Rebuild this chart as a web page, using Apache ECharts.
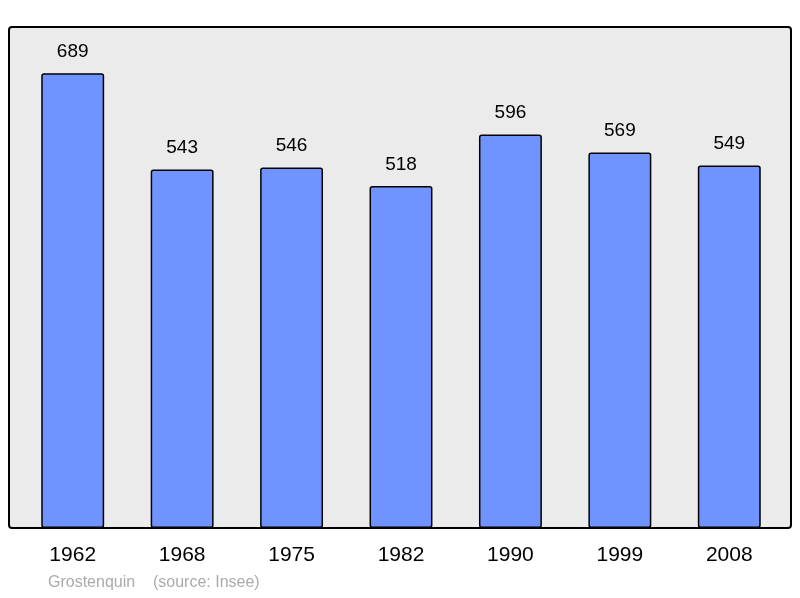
<!DOCTYPE html><html><head><meta charset="utf-8">
<script src="https://cdn.jsdelivr.net/npm/echarts@6/dist/echarts.min.js"></script>
<style>html,body{margin:0;padding:0;background:#fff}#c{width:800px;height:598px}</style></head><body><div id="c"></div>
<script>
const categories=['1962','1968','1975','1982','1990','1999','2008'];
const values=[689,543,546,518,596,569,549];
const chart=echarts.init(document.getElementById('c'));
chart.setOption({
  animation:false,
  graphic:[
    {type:'rect',shape:{x:9,y:27,width:782,height:501,r:3},style:{fill:'#ebebeb',stroke:'#000',lineWidth:2},z:-10},
    {type:'text',left:48,top:575,style:{text:'Grostenquin    (source: Insee)',fill:'#aaaaaa',font:'16px "Liberation Sans", Arial'}}
  ],
  grid:{left:18,right:16,top:27,bottom:70},
  xAxis:{type:'category',data:categories,axisLine:{show:false},axisTick:{show:false},
    axisLabel:{fontSize:21,color:'#000',fontFamily:'Liberation Sans',margin:17}},
  yAxis:{type:'value',min:0,max:759,show:false,splitLine:{show:false}},
  series:[{type:'bar',data:values,barWidth:'57.5%',
    itemStyle:{color:'#7094ff',borderColor:'#000',borderWidth:1.5,borderRadius:2},
    label:{show:true,position:'top',distance:12,fontSize:19,color:'#000',fontFamily:'Liberation Sans'}}]
});
</script></body></html>
